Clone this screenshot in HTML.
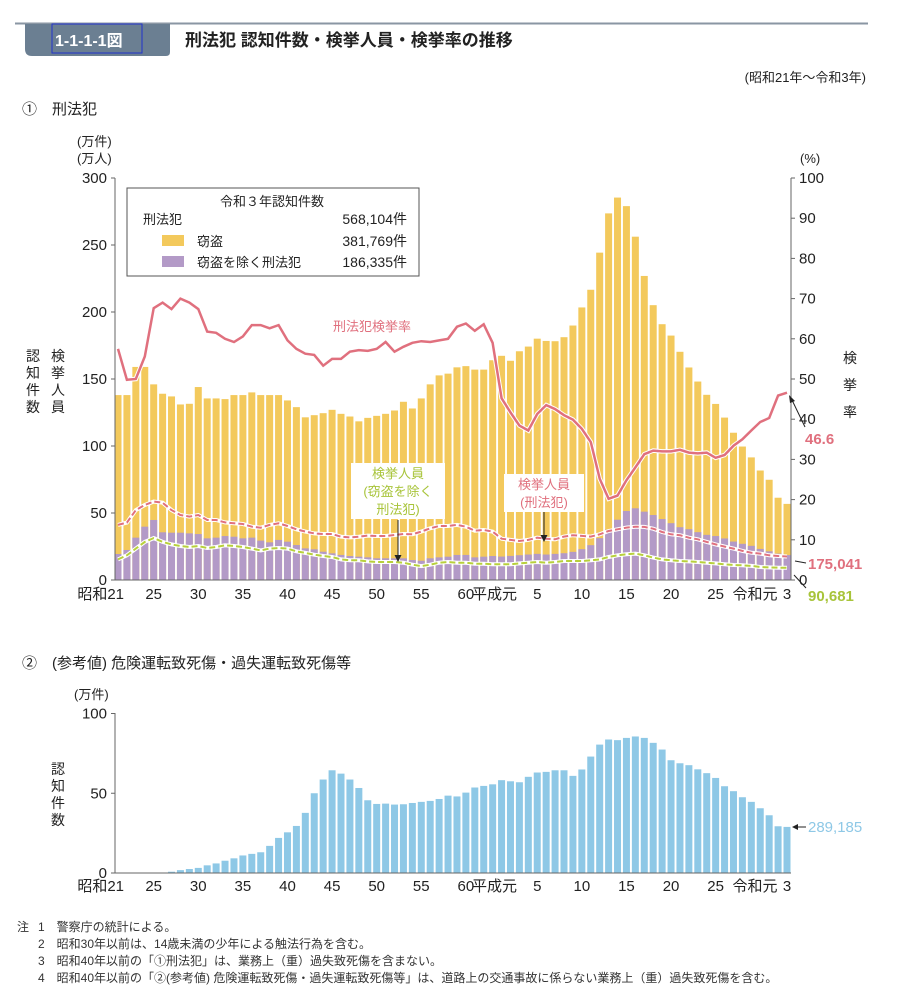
<!DOCTYPE html>
<html><head><meta charset="utf-8"><style>
body{margin:0;background:#fff;}
svg{display:block;font-family:"Liberation Sans","Noto Sans CJK JP",sans-serif;}
</style></head><body>
<svg id="svg" width="908" height="1008" viewBox="0 0 908 1008" xmlns="http://www.w3.org/2000/svg">
<line x1="15" y1="23.5" x2="868" y2="23.5" stroke="#8a96a3" stroke-width="2"/>
<path d="M25 24 H170 V52 Q170 56 166 56 H32 Q25 56 25 49 Z" fill="#6b7f92"/>
<rect x="52" y="24" width="90" height="29" fill="none" stroke="#2233cc" stroke-width="1"/>
<text x="55" y="46" font-size="16" font-weight="bold" fill="#fff">1-1-1-1図</text>
<text x="185" y="46" font-size="17" font-weight="bold" fill="#222">刑法犯 認知件数・検挙人員・検挙率の推移</text>
<text x="866" y="82" font-size="13" text-anchor="end" fill="#222">(昭和21年～令和3年)</text>
<text x="22" y="114" font-size="15" fill="#222">①　刑法犯</text>
<text x="22" y="668" font-size="15" fill="#222">②　(参考値) 危険運転致死傷・過失運転致死傷等</text>
<g id="c1"></g>
<g id="c2"></g>
<g font-size="12" fill="#333">
<text x="17" y="931">注</text>
<text x="38" y="931">1　警察庁の統計による。</text>
<text x="38" y="948">2　昭和30年以前は、14歳未満の少年による触法行為を含む。</text>
<text x="38" y="965">3　昭和40年以前の「①刑法犯」は、業務上（重）過失致死傷を含まない。</text>
<text x="38" y="982">4　昭和40年以前の「②(参考値) 危険運転致死傷・過失運転致死傷等」は、道路上の交通事故に係らない業務上（重）過失致死傷を含む。</text>
</g>
</svg>
<script>
const years = ["昭和21","22","23","24","25","26","27","28","29","30","31","32","33","34","35","36","37","38","39","40","41","42","43","44","45","46","47","48","49","50","51","52","53","54","55","56","57","58","59","60","61","62","63","平成元","2","3","4","5","6","7","8","9","10","11","12","13","14","15","16","17","18","19","20","21","22","23","24","25","26","27","28","29","30","令和元","2","3"];
const totalCases = [138,138,159,159,146,139,137,131,131.5,144,135.5,135.5,135,138,138,140,138,138,138,134,129,121.4,123,124.5,127,124,122,118.4,121,122.5,124,126.5,133,128,135.5,146,152.7,154,158.7,159.6,157,157,164,
167.3,163.6,170.7,174.2,180.1,178.4,178.2,181.2,189.9,203.4,216.6,244.3,273.6,285.4,279.0,256.2,226.9,205.1,190.9,182.4,170.3,158.6,148.1,138.2,131.4,121.2,109.9,99.6,91.5,81.7,74.8,61.4,56.8];
const nonTheftCases = [19.4,22.4,31.6,39.8,44.8,35.6,35.3,35.3,34.8,34.3,31.1,31.6,32.8,32.3,31.1,31.6,29.4,28.1,29.9,28.6,26.1,23.6,22.9,21.1,19.9,18.7,17.9,17.4,16.9,16.2,16.2,16.2,16.2,14.9,14.4,16.2,16.9,17.4,18.7,18.7,16.9,17.4,17.9,
17.5,18,18.5,19,19.5,19,19.5,20,21,23,26,31.2,37.6,45,51.5,53.5,51,48.5,45.5,42.4,39.4,37.9,35.7,33.7,32.8,31,28.7,27,25.5,23.2,21.4,19.7,18.6];
const arrestsAll = [41.1,42.8,52.2,56,58.5,57.7,52.2,48.5,47.3,48.5,44.8,44.8,43,42.3,41.8,39.8,39,41.1,42.3,40.3,37.8,36.1,34.8,34.3,34.3,32.3,31.8,32.3,33.1,32.8,32.8,33.6,34.3,34.1,36.1,38.6,40.3,40.3,41.1,39.8,36.8,37.3,36.1,
30.8,29.9,29.1,29.9,31.6,30.8,30.4,32.4,33.4,32.9,32.4,34.1,36.6,37.8,39.1,39.8,39.6,38.3,35.8,34.1,33.4,31.6,30.4,28.4,26.6,24.9,23.4,21.7,20.4,19.7,18.4,17.9,17.5];
const arrestsNonTheft = [15.4,18.4,23.4,28.4,31.3,28.4,26.6,25.4,24.6,25.4,23.9,24.6,25.9,25.4,24.6,23.4,22.1,23.4,23.9,23.4,21.4,20.2,18.9,17.9,17.2,15.4,14.7,14.7,13.9,13.4,13.4,13.4,12.9,11.4,10.4,11.4,12.9,13.4,12.9,12.9,12.2,12.2,11.7,
11.7,11.7,12.4,12.9,13.4,12.9,13.4,14.2,14.2,14.2,14.7,15.4,17.2,18.4,19.2,19.7,18.4,16.7,15.4,14.7,14.2,13.9,13.4,12.9,12.4,11.7,11.2,11,10.5,9.7,9.4,9.2,9.07];
const clearanceRate = [57.5,49.8,50,55.6,67.6,69,67.4,70,69,67.4,61.8,61.5,60,59.2,60.6,63.4,63.4,62.6,63.4,59.6,57.5,56.3,56,53.3,55,55,56.8,57.2,57,57.5,59.2,56.8,58,59,59.4,59.2,59.6,60,63,63.8,62,63.6,59,
45.2,41.7,38.4,37.2,41.3,43.5,42.5,41,39.9,37.6,34.3,25.2,20.2,21,24.8,28,31.3,32.2,32,32,32.4,31.7,31.5,31.7,30.4,31.1,33.4,35,37.2,39.3,40.3,45.9,46.6];
const trafficCases = [0,0,0,0,0.1,0.3,0.8,1.8,2.5,3.2,4.8,6,7.7,9.2,11,12,13,17,22,25.5,29.5,37.7,50,58.6,64.4,62.3,58.6,53.3,45.6,43.3,43.5,42.9,43.1,43.9,44.6,45.2,46.4,48.5,48,50.4,53.6,54.6,55.6,
58.2,57.5,56.9,60.3,63,63.4,64.4,64.4,60.9,64.9,73,80.5,83.7,83.3,84.7,85.6,84.7,81.6,77.4,70.7,68.8,67.6,65,62.6,59.6,54.4,51.3,47.5,44.6,40.6,36.2,29.3,28.9];
const leftTicks = [0,50,100,150,200,250,300];
const rightTicks = [0,10,20,30,40,50,60,70,80,90,100];
const trafficTicks = [0,50,100];
const xLabelIdx = [0,4,9,14,19,24,29,34,39,43,47,52,57,62,67,73,75];

const NS="http://www.w3.org/2000/svg";
function mk(parent,tag,attrs,txt){const e=document.createElementNS(NS,tag);for(const k in attrs)e.setAttribute(k,attrs[k]);if(txt!==undefined)e.textContent=txt;parent.appendChild(e);return e;}
const xPos = i => 118 + i*8.92;
const y1 = v => 580 - v*1.34;
const yR = v => 580 - v*4.02;
const y2 = v => 873 - v*1.595;
const FONT="#222";
const c1=document.getElementById('c1'), c2=document.getElementById('c2');

totalCases.forEach((v,i)=>{
  const r=mk(c1,'rect',{x:xPos(i)-3.5,y:y1(v),width:7,height:580-y1(v),fill:'#f3c95c'});
  
  
});
nonTheftCases.forEach((v,i)=>{
  const r=mk(c1,'rect',{x:xPos(i)-3.5,y:y1(v),width:7,height:580-y1(v),fill:'#b39ac7'});
  
  
});
function poly(parent,arr,yf){return arr.map((v,i)=>xPos(i).toFixed(1)+','+yf(v).toFixed(1)).join(' ');}
let p=mk(c1,'polyline',{points:poly(c1,arrestsAll,y1),fill:'none',stroke:'#fff',"stroke-width":4});


p=mk(c1,'polyline',{points:poly(c1,arrestsAll,y1),fill:'none',stroke:'#e0707e',"stroke-width":2,"stroke-dasharray":"6 3"});


p=mk(c1,'polyline',{points:poly(c1,arrestsNonTheft,y1),fill:'none',stroke:'#fff',"stroke-width":4});


p=mk(c1,'polyline',{points:poly(c1,arrestsNonTheft,y1),fill:'none',stroke:'#b8d03c',"stroke-width":2,"stroke-dasharray":"6 3"});


p=mk(c1,'polyline',{points:poly(c1,clearanceRate,yR),fill:'none',stroke:'#fff',"stroke-width":4.5});


p=mk(c1,'polyline',{points:poly(c1,clearanceRate,yR),fill:'none',stroke:'#e0707e',"stroke-width":2.5});



let a=mk(c1,'line',{x1:115,y1:178,x2:115,y2:580,stroke:'#666'});


a=mk(c1,'line',{x1:791,y1:178,x2:791,y2:580,stroke:'#666'});


a=mk(c1,'line',{x1:115,y1:580,x2:791,y2:580,stroke:'#666'});


leftTicks.forEach(v=>{
  mk(c1,'line',{x1:111,y1:y1(v),x2:115,y2:y1(v),stroke:'#666'});
  const t=mk(c1,'text',{x:107,y:y1(v)+5,"font-size":15,"text-anchor":"end",fill:FONT},v);
  
  
});
rightTicks.forEach(v=>{
  mk(c1,'line',{x1:791,y1:yR(v),x2:795,y2:yR(v),stroke:'#666'});
  const t=mk(c1,'text',{x:799,y:yR(v)+5,"font-size":15,fill:FONT},v);
  
  
});
function xlabels(parent,ybase){
  xLabelIdx.forEach(i=>{
    let x=xPos(i), anchor='middle', s=years[i];
    if(i===0){x=xPos(0)+6;anchor='end';}
    if(i===43){x=xPos(i)-7;}
    if(i===73){x=755;}
    const t=mk(parent,'text',{x:x,y:ybase,"font-size":15,"text-anchor":anchor,fill:FONT},s);
    
    
  });
}
xlabels(c1,599);
function vtext(parent,x,y0,str,step,color,name){
  const g=mk(parent,'g',{});
  
  
  [...str].forEach((ch,k)=>mk(g,'text',{x:x,y:y0+k*step,"font-size":14,"text-anchor":"middle",fill:color},ch));
}
vtext(c1,33,361,"認知件数",17,FONT,'y-axis-title-cases');
vtext(c1,58,361,"検挙人員",17,FONT,'y-axis-title-arrests');
vtext(c1,850,363,"検挙率",27,FONT,'y-axis-title-rate');
let t=mk(c1,'text',{x:77,y:146,"font-size":13,fill:FONT},"(万件)");


t=mk(c1,'text',{x:77,y:163,"font-size":13,fill:FONT},"(万人)");


t=mk(c1,'text',{x:800,y:163,"font-size":13,fill:FONT},"(%)");



const lg=mk(c1,'g',{});


mk(lg,'rect',{x:127,y:188,width:292,height:88,fill:'#fff',stroke:'#555'});
mk(lg,'text',{x:272,y:206,"font-size":13,"text-anchor":"middle",fill:FONT},"令和３年認知件数");
mk(lg,'text',{x:143,y:224,"font-size":13,fill:FONT},"刑法犯");
mk(lg,'text',{x:407,y:224,"font-size":14,"text-anchor":"end",fill:FONT},"568,104件");
mk(lg,'rect',{x:162,y:235,width:22,height:11,fill:'#f3c95c'});
mk(lg,'text',{x:197,y:246,"font-size":13,fill:FONT},"窃盗");
mk(lg,'text',{x:407,y:246,"font-size":14,"text-anchor":"end",fill:FONT},"381,769件");
mk(lg,'rect',{x:162,y:256,width:22,height:11,fill:'#b39ac7'});
mk(lg,'text',{x:197,y:267,"font-size":13,fill:FONT},"窃盗を除く刑法犯");
mk(lg,'text',{x:407,y:267,"font-size":14,"text-anchor":"end",fill:FONT},"186,335件");

t=mk(c1,'text',{x:372,y:331,"font-size":13,"text-anchor":"middle",fill:'#e0707e'},"刑法犯検挙率");


const ag=mk(c1,'g',{});


mk(ag,'rect',{x:351,y:463,width:94,height:56,fill:'#fff'});
mk(ag,'text',{x:398,y:478,"font-size":13,"text-anchor":"middle",fill:'#a8c43a'},"検挙人員");
mk(ag,'text',{x:398,y:496,"font-size":13,"text-anchor":"middle",fill:'#a8c43a'},"(窃盗を除く");
mk(ag,'text',{x:398,y:514,"font-size":13,"text-anchor":"middle",fill:'#a8c43a'},"刑法犯)");
mk(ag,'line',{x1:398,y1:520,x2:398,y2:557,stroke:'#222'});
mk(ag,'path',{d:'M394.5 555 L398 562 L401.5 555 Z',fill:'#222'});
const bg=mk(c1,'g',{});


mk(bg,'rect',{x:504,y:474,width:80,height:38,fill:'#fff'});
mk(bg,'text',{x:544,y:489,"font-size":13,"text-anchor":"middle",fill:'#e0707e'},"検挙人員");
mk(bg,'text',{x:544,y:507,"font-size":13,"text-anchor":"middle",fill:'#e0707e'},"(刑法犯)");
mk(bg,'line',{x1:544,y1:512,x2:544,y2:537,stroke:'#222'});
mk(bg,'path',{d:'M540.5 535 L544 542 L547.5 535 Z',fill:'#222'});
const eg=mk(c1,'g',{});


mk(eg,'line',{x1:805,y1:427,x2:792,y2:400,stroke:'#222'});
mk(eg,'path',{d:'M789 395 L790 403 L795 401 Z',fill:'#222'});
mk(eg,'text',{x:805,y:444,"font-size":15,"font-weight":"bold",fill:'#e0707e'},"46.6");
mk(eg,'line',{x1:806,y1:563,x2:795,y2:561,stroke:'#222'});
mk(eg,'text',{x:808,y:569,"font-size":15,"font-weight":"bold",fill:'#e0707e'},"175,041");
mk(eg,'line',{x1:806,y1:588,x2:794,y2:575,stroke:'#222'});
mk(eg,'text',{x:808,y:601,"font-size":15,"font-weight":"bold",fill:'#a8c43a'},"90,681");

trafficCases.forEach((v,i)=>{
  const r=mk(c2,'rect',{x:xPos(i)-3.5,y:y2(v),width:7,height:873-y2(v),fill:'#8ec8e6'});
  
  
});
a=mk(c2,'line',{x1:115,y1:713,x2:115,y2:873,stroke:'#666'});


a=mk(c2,'line',{x1:115,y1:873,x2:791,y2:873,stroke:'#666'});


trafficTicks.forEach(v=>{
  mk(c2,'line',{x1:111,y1:y2(v),x2:115,y2:y2(v),stroke:'#666'});
  const tt=mk(c2,'text',{x:107,y:y2(v)+5,"font-size":15,"text-anchor":"end",fill:FONT},v);
  
  
});
xlabels(c2,891);
vtext(c2,58,774,"認知件数",17,FONT,'traffic-y-axis-title');
t=mk(c2,'text',{x:74,y:699,"font-size":13,fill:FONT},"(万件)");


const tg=mk(c2,'g',{});


mk(tg,'line',{x1:806,y1:827,x2:796,y2:827,stroke:'#222'});
mk(tg,'path',{d:'M792 827 L798 824 L798 830 Z',fill:'#222'});
mk(tg,'text',{x:808,y:832,"font-size":15,fill:'#8ec8e6'},"289,185");
</script>
</body></html>
